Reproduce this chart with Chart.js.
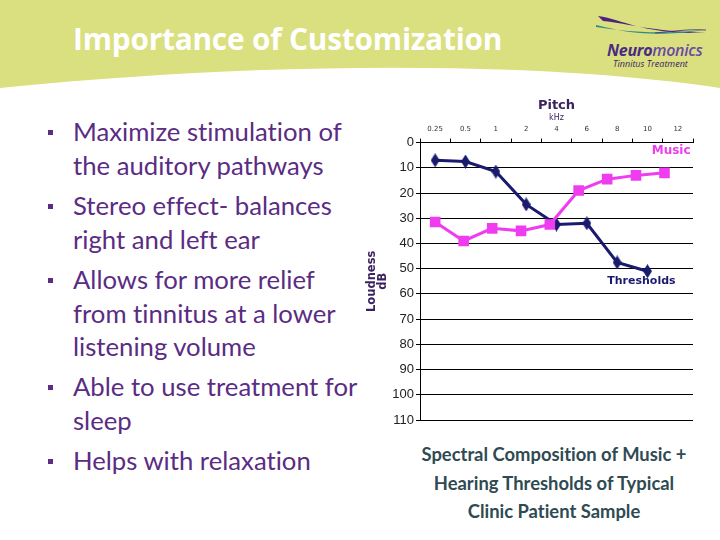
<!DOCTYPE html>
<html>
<head>
<meta charset="utf-8">
<script src="https://cdn.jsdelivr.net/npm/chart.js@4"></script>
<style>
  body { margin:0; width:720px; height:540px; position:relative; overflow:hidden; background:#fff; font-family: Lato, sans-serif; font-variant-ligatures:none; }
  #band { position:absolute; left:0; top:0; }
  #title { position:absolute; left:73px; top:18px; color:#fff; font:bold 29.8px "Open Sans", sans-serif; white-space:nowrap; letter-spacing:-0.2px; }
  #brand { position:absolute; left:607px; top:39px; font:italic bold 16px "Open Sans", sans-serif; color:#4a2a84; letter-spacing:-0.3px; }
  #brand span { color:#6a4aa8; font-weight:600; }
  #tag { position:absolute; left:613px; top:57px; font:italic 9px "Open Sans", sans-serif; color:#3b2360; }
  ul { position:absolute; left:46px; top:115px; margin:0; padding:0; list-style:none; color:#5b2c83; font-size:25.7px; }
  li { position:relative; padding-left:27px; line-height:33.7px; margin-bottom:6.5px; white-space:nowrap; }
  li::before { content:""; position:absolute; left:2px; top:15px; width:5px; height:5px; background:#5b2c83; }
  #caption { position:absolute; left:394px; top:440px; width:320px; text-align:center; color:#2f4a52; font-weight:bold; font-size:18.4px; line-height:28.5px; }
  #wrap { position:absolute; left:360px; top:98px; width:345px; height:336px; }
</style>
</head>
<body>
<svg id="band" width="720" height="100">
  <path d="M0,0 H720 V88 C560,64 300,58 0,88 Z" fill="#dadf7f"/>
  <path d="M598,16 C625,20 640,34 706,33 C650,31 630,24 603,21 Z" fill="#4b2380"/>
  <path d="M596,25 C625,32 650,38 705,30 C650,35 625,31 596,27 Z" fill="#2e8a8a"/>
  <path d="M655,33 C675,31 690,29 706,30" stroke="#4b2380" stroke-width="0.8" fill="none"/>
</svg>
<div id="title">Importance of Customization</div>
<div id="brand">Neuro<span>monics</span></div>
<div id="tag">Tinnitus Treatment</div>

<ul>
  <li>Maximize stimulation of<br>the auditory pathways</li>
  <li>Stereo effect- balances<br>right and left ear</li>
  <li>Allows for more relief<br>from tinnitus at a lower<br>listening volume</li>
  <li>Able to use treatment for<br>sleep</li>
  <li>Helps with relaxation</li>
</ul>

<div id="wrap"><canvas id="myChart"></canvas></div>

<div id="caption">Spectral Composition of Music +<br>Hearing Thresholds of Typical<br>Clinic Patient Sample</div>

<script>
// pitch categories (kHz) along the top axis
const freqLabels = ['0.25', '0.5', '1', '2', '4', '6', '8', '10', '12'];

// hearing thresholds (dB), one per frequency slot
const thresholdPos = [0, 1, 2, 3, 4, 5, 6, 7];
const thresholdDb = [7, 7.5, 11.5, 24.5, 32.5, 32, 47.5, 51];

// music spectrum (dB), sits a little off the frequency slots in the original
const musicPos = [0, 0.94, 1.88, 2.83, 3.78, 4.73, 5.67, 6.62, 7.56];
const musicDb = [31.5, 39, 34, 35, 32.5, 19, 14.5, 13, 12];

const navy = '#1a1a6e';
const magenta = '#f03cf0';
const purple = '#3b2360';

function toPoints(xs, ys) {
  return xs.map((x, i) => ({ x: x, y: ys[i] }));
}

// tall thin diamond marker like the original
function diamond(w, h, color) {
  const c = document.createElement('canvas');
  c.width = w; c.height = h;
  const g = c.getContext('2d');
  g.fillStyle = color;
  g.beginPath();
  g.moveTo(w / 2, 0); g.lineTo(w, h / 2); g.lineTo(w / 2, h); g.lineTo(0, h / 2);
  g.closePath();
  g.fill();
  return c;
}

const seriesLabels = {
  id: 'seriesLabels',
  afterDatasetsDraw(chart) {
    const { ctx, scales: { x, y } } = chart;
    ctx.save();
    ctx.textBaseline = 'middle';
    ctx.font = 'bold 12px "DejaVu Sans"';
    ctx.fillStyle = magenta;
    ctx.textAlign = 'right';
    ctx.fillText(chart.data.datasets[0].label, x.getPixelForValue(8.42), y.getPixelForValue(3.3));
    ctx.font = 'bold 11px "DejaVu Sans"';
    ctx.fillStyle = navy;
    ctx.textAlign = 'center';
    ctx.fillText(chart.data.datasets[1].label, x.getPixelForValue(6.8), y.getPixelForValue(55));
    ctx.restore();
  }
};

new Chart(document.getElementById('myChart'), {
  type: 'line',
  data: {
    datasets: [{
      label: 'Music',
      data: toPoints(musicPos, musicDb),
      borderColor: magenta,
      backgroundColor: magenta,
      borderWidth: 3,
      pointStyle: 'rect',
      pointRadius: 7.5,
      pointBorderWidth: 0
    }, {
      label: 'Thresholds',
      data: toPoints(thresholdPos, thresholdDb),
      borderColor: navy,
      backgroundColor: navy,
      borderWidth: 3,
      pointStyle: diamond(9, 14, navy),
      pointRadius: 7
    }]
  },
  options: {
    responsive: true,
    maintainAspectRatio: false,
    animation: false,
    layout: { padding: { left: 0, right: 12, top: 0, bottom: 14 } },
    plugins: {
      legend: { display: false },
      tooltip: { enabled: false },
      title: {
        display: true, text: 'Pitch', color: purple, fullSize: false,
        font: { family: 'DejaVu Sans', size: 13, weight: 'bold' },
        padding: { top: 0, bottom: 0 }
      },
      subtitle: {
        display: true, text: 'kHz', color: purple, fullSize: false,
        font: { family: 'DejaVu Sans', size: 8 },
        padding: { top: 0, bottom: -3 }
      }
    },
    scales: {
      x: {
        type: 'linear',
        position: 'top',
        min: -0.5,
        max: freqLabels.length - 0.5,
        afterBuildTicks: (scale) => {
          const t = [];
          freqLabels.forEach((l, i) => { t.push({ value: i - 0.5 }); t.push({ value: i }); });
          t.push({ value: freqLabels.length - 0.5 });
          scale.ticks = t;
        },
        ticks: {
          autoSkip: false, maxRotation: 0, padding: 5, color: '#333',
          font: { family: 'DejaVu Sans', size: 7 },
          callback: (v) => Number.isInteger(v) ? freqLabels[v] : ''
        },
        grid: {
          drawOnChartArea: false, tickLength: 4,
          color: (c) => (c.tick && Number.isInteger(c.tick.value)) ? 'rgba(0,0,0,0)' : '#000'
        },
        border: { color: '#000', width: 1 }
      },
      y: {
        reverse: true,
        min: 0,
        max: 110,
        ticks: { stepSize: 10, padding: 2, color: '#222', font: { family: 'Liberation Sans', size: 13 } },
        grid: { color: '#000', tickLength: 4 },
        border: { color: '#000', width: 1 },
        title: {
          display: true, text: ['Loudness', 'dB'], color: purple, padding: { top: 6, bottom: 0 },
          font: { family: 'DejaVu Sans', size: 11.5, weight: 'bold', lineHeight: 1 }
        },
        afterFit: (scale) => { scale.width = 60; }
      }
    }
  },
  plugins: [seriesLabels]
});
</script>
</body>
</html>
